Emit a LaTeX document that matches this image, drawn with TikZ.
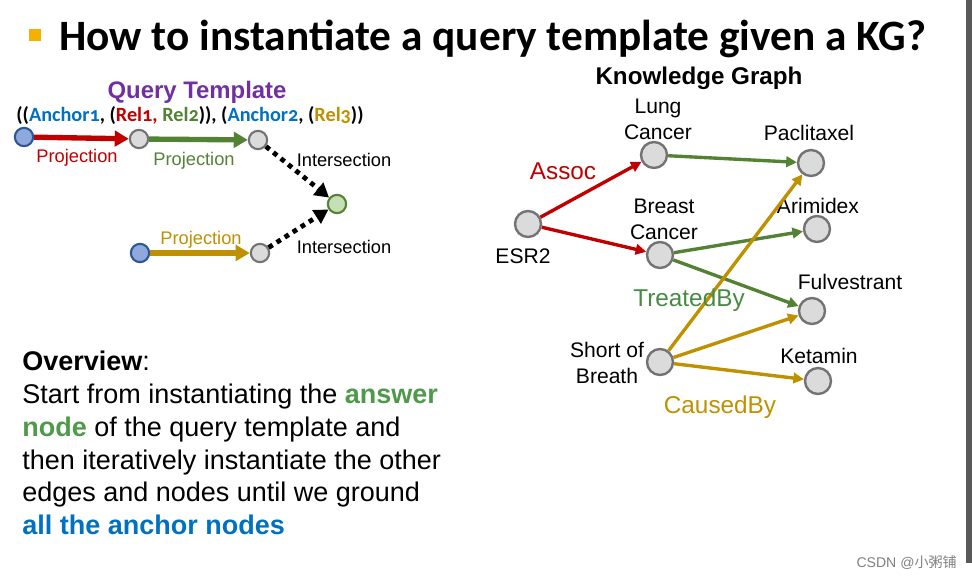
\documentclass[tikz,border=0pt]{standalone}
\usepackage{fontspec}
\setmainfont{Liberation Sans}
\newfontfamily\titlefont{Carlito}
\newfontfamily\tplfont[Numbers=OldStyle]{Carlito}
\newfontfamily\cjk{Noto Sans CJK SC}
\usepackage{tikz}
\usetikzlibrary{arrows.meta}

\definecolor{relred}{HTML}{C00000}
\definecolor{relgreen}{HTML}{548235}
\definecolor{txtgreen}{HTML}{4E9A4A}
\definecolor{relgold}{HTML}{BF9000}
\definecolor{ancblue}{HTML}{0070C0}
\definecolor{qpurple}{HTML}{7030A0}
\definecolor{bullet}{HTML}{F5B000}
\definecolor{ancfill}{HTML}{8EA9DB}
\definecolor{ancdraw}{HTML}{2F5597}
\definecolor{ansfill}{HTML}{C5E0B4}

\begin{document}
\begin{tikzpicture}
[x=0.025cm,y=-0.025cm
,kn/.style={circle,draw=gray!90!black,fill=gray!28,line width=1.7pt,minimum size=18.5pt,inner sep=0pt}
,qn/.style={circle,draw=gray!90!black,fill=gray!28,line width=1.5pt,minimum size=13pt,inner sep=0pt}
,anc/.style={qn,draw=ancdraw,fill=ancfill}
,ans/.style={qn,draw=relgreen,fill=ansfill}
,qe/.style={line width=3.8pt,arrows={-Triangle[length=10pt,width=11pt]}}
,qi/.style={line width=3.4pt,dash pattern=on 3.4pt off 3.4pt,arrows={-Triangle[length=10pt,width=11pt]}}
,ke/.style={line width=2.4pt,arrows={-Triangle[length=7.5pt,width=7.5pt]}}
,lbl/.style={font=\fontsize{15}{18.5}\selectfont,align=center,inner sep=0pt}
,ql/.style={font=\fontsize{13}{15}\selectfont,inner sep=0pt}
,rl/.style={font=\fontsize{17.3}{20}\selectfont,inner sep=0pt}]
\useasboundingbox (0,0) rectangle (972,579);
% title
\fill[bullet] (29,29) rectangle (41,41);
\node[anchor=base west,inner sep=0pt,font=\titlefont\bfseries\fontsize{30.8}{34}\selectfont] (title) at (59,50) {How to instantiate a query template given a KG?};
\fill[black!65] (966,0) rectangle (972,563);
% query template
\node[inner sep=0pt,text=qpurple,font=\bfseries\fontsize{17}{20}\selectfont] (qt) at (197,92) {Query Template};
\node[inner sep=0pt,font=\tplfont\bfseries\fontsize{14.4}{16}\selectfont] (tpl) at (190,116)
  {((\textcolor{ancblue}{Anchor1}, (\textcolor{relred}{Rel1,} \textcolor{relgreen}{Rel2})), (\textcolor{ancblue}{Anchor2}, (\textcolor{relgold}{Rel3}))};
\node[anc] (a1) at (24,137) {};
\node[qn] (v1) at (139,139) {};
\node[qn] (v2) at (258,140) {};
\node[ans] (t) at (337,204) {};
\node[anc] (a2) at (140,253) {};
\node[qn] (v3) at (260,253) {};
\draw[qe,relred] (a1) -- (v1);
\draw[qe,relgreen] (v1) -- (v2);
\draw[qe,relgold] (a2) -- (v3);
\draw[qi] (v2) -- (t);
\draw[qi] (v3) -- (t);
\node[ql,text=relred] (p1) at (77,158) {Projection};
\node[ql,text=relgreen] (p2) at (194,161) {Projection};
\node[ql,text=relgold] (p3) at (201,240) {Projection};
\node[ql] (i1) at (344,160) {Intersection};
\node[ql] (i2) at (344,247) {Intersection};
% knowledge graph
\node[inner sep=0pt,font=\bfseries\fontsize{17.2}{20}\selectfont] (kg) at (699,78) {Knowledge Graph};
\node[kn] (esr) at (528,224) {};
\node[kn] (lung) at (654,155) {};
\node[kn] (pacl) at (811,163) {};
\node[kn] (brst) at (660,255) {};
\node[kn] (arim) at (817,229) {};
\node[kn] (fulv) at (812,311) {};
\node[kn] (sob) at (660,362) {};
\node[kn] (keta) at (818,381) {};
\node[lbl] (esrT) at (523,256) {ESR2};
\node[lbl] (lungT) at (658,119) {Lung\\Cancer};
\node[lbl] (paclT) at (809,133) {Paclitaxel};
\node[lbl] (brstT) at (664,219) {Breast\\Cancer};
\node[lbl] (arimT) at (818,206) {Arimidex};
\node[lbl] (fulvT) at (850,282) {Fulvestrant};
\node[lbl] (sobT) at (607,363) {Short of\\Breath};
\node[lbl] (ketaT) at (819,356) {Ketamin};
\draw[ke,relred] (esr) -- (lung);
\draw[ke,relred] (esr) -- (brst);
\draw[ke,relgreen] (lung) -- (pacl);
\draw[ke,relgreen] (brst) -- (arim);
\draw[ke,relgreen] (brst) -- (fulv);
\draw[ke,relgold] (sob) -- (pacl);
\draw[ke,relgold] (sob) -- (fulv);
\draw[ke,relgold] (sob) -- (keta);
\node[rl,text=relred] (assoc) at (563,171) {Assoc};
\node[rl,text=txtgreen!90!black] (treat) at (689,300) {TreatedBy};
\node[rl,text=relgold] (cause) at (720,407) {CausedBy};
% overview
\node[anchor=north west,align=left,inner sep=0pt,font=\fontsize{19.2}{23.3}\selectfont] (ov) at (22,351)
  {\textbf{Overview}:\\
   Start from instantiating the \textcolor{txtgreen}{\textbf{answer}}\\
   \textcolor{txtgreen}{\textbf{node}} of the query template and\\
   then iteratively instantiate the other\\
   edges and nodes until we ground\\
   \textcolor{ancblue}{\textbf{all the anchor nodes}}};
\node[anchor=east,inner sep=0pt,text=gray,font=\fontsize{10}{12}\selectfont] (wm) at (957,563) {CSDN @{\cjk 小粥铺}};
\end{tikzpicture}
\end{document}
